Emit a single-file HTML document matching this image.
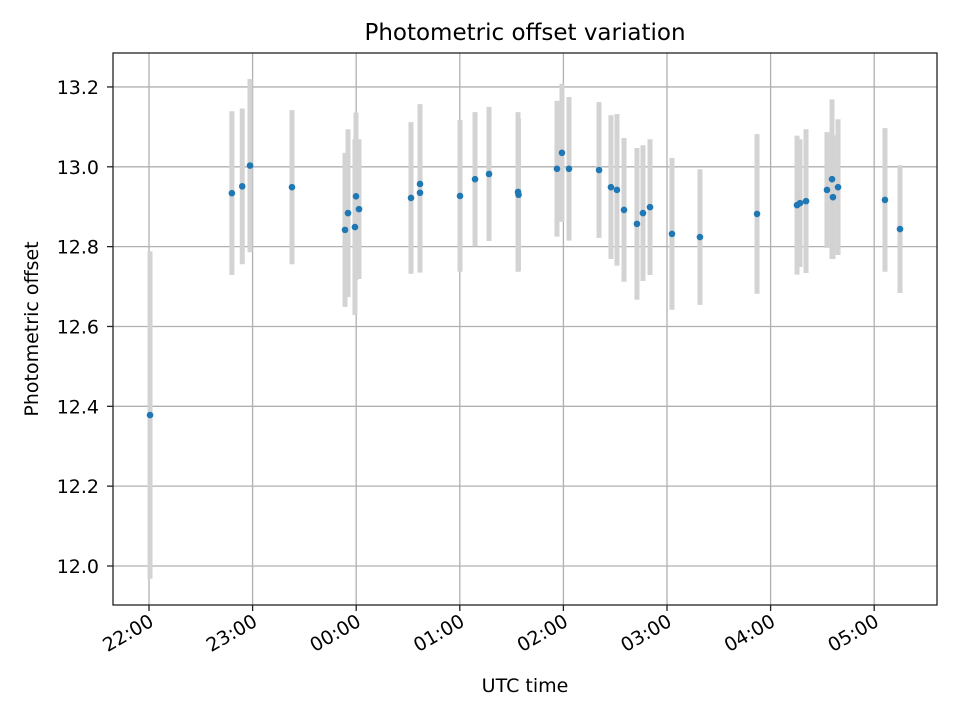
<!DOCTYPE html>
<html><head><meta charset="utf-8"><style>
html,body{margin:0;padding:0;background:#fff;}
svg text{font-family:"DejaVu Sans","Liberation Sans",sans-serif;fill:#000;}
</style></head><body>
<svg id="chart" width="960" height="720" xmlns="http://www.w3.org/2000/svg"></svg>
<script>
// hours after 22:00 UTC
const times = [0.01,0.80,0.90,0.975,1.38,1.892,1.921,1.998,1.988,2.027,2.529,2.616,2.616,3.002,3.147,3.282,3.562,3.567,3.938,3.986,4.054,4.344,4.459,4.517,4.585,4.710,4.768,4.836,5.048,5.318,5.869,6.255,6.284,6.342,6.544,6.593,6.602,6.651,7.104,7.249];
const values = [12.378,12.934,12.951,13.003,12.949,12.842,12.884,12.926,12.849,12.894,12.922,12.957,12.935,12.927,12.969,12.982,12.937,12.930,12.995,13.035,12.995,12.992,12.949,12.942,12.892,12.857,12.884,12.899,12.832,12.824,12.882,12.904,12.909,12.914,12.942,12.969,12.924,12.949,12.917,12.844];
const errors = [0.41,0.205,0.195,0.217,0.193,0.193,0.21,0.21,0.22,0.175,0.19,0.2,0.2,0.19,0.168,0.168,0.2,0.19,0.17,0.173,0.18,0.17,0.18,0.19,0.18,0.19,0.17,0.17,0.19,0.17,0.20,0.174,0.16,0.18,0.145,0.2,0.155,0.17,0.18,0.16];
const yTicks = [12.0,12.2,12.4,12.6,12.8,13.0,13.2];
const xTickHours = [0,1,2,3,4,5,6,7];
const xTickLabels = ["22:00","23:00","00:00","01:00","02:00","03:00","04:00","05:00"];

const NS="http://www.w3.org/2000/svg";
const svg=document.getElementById('chart');
const L=113,R=937,T=53,B=605;
function xs(h){return 149+h*103.6;}
function ys(v){return 566-(v-12)*399.2;}
function mk(tag,attrs,parent){const e=document.createElementNS(NS,tag);for(const k in attrs)e.setAttribute(k,attrs[k]);(parent||svg).appendChild(e);return e;}

const grid=mk('g',{});


yTicks.forEach(v=>{const l=mk('line',{x1:L,x2:R,y1:ys(v),y2:ys(v),stroke:'#b0b0b0','stroke-width':1.3},grid);

});
xTickHours.forEach(h=>{const l=mk('line',{x1:xs(h),x2:xs(h),y1:T,y2:B,stroke:'#b0b0b0','stroke-width':1.3},grid);

});

const eb=mk('g',{});


times.forEach((t,i)=>{const l=mk('line',{x1:xs(t),x2:xs(t),y1:ys(values[i]+errors[i]),y2:ys(values[i]-errors[i]),stroke:'#d3d3d3','stroke-width':5},eb);

});
const pts=mk('g',{});


times.forEach((t,i)=>{const c=mk('circle',{cx:xs(t),cy:ys(values[i]),r:3.3,fill:'#1f77b4'},pts);

});

const frame=mk('rect',{x:L,y:T,width:R-L,height:B-T,fill:'none',stroke:'#222','stroke-width':1.3});



const ya=mk('g',{});


yTicks.forEach(v=>{mk('line',{x1:L-6,x2:L,y1:ys(v),y2:ys(v),stroke:'#222','stroke-width':1.3},ya);
const t=mk('text',{x:L-14,y:ys(v)+7,'text-anchor':'end','font-size':19},ya);t.textContent=v.toFixed(1);

});
const xa=mk('g',{});


xTickHours.forEach((h,i)=>{mk('line',{x1:xs(h),x2:xs(h),y1:B,y2:B+6,stroke:'#222','stroke-width':1.3},xa);
const x=xs(h)+6,y=B+20;
const t=mk('text',{x:x,y:y,'text-anchor':'end','font-size':19,transform:`rotate(-30 ${x} ${y})`},xa);t.textContent=xTickLabels[i];

});

const title=mk('text',{x:525,y:40,'text-anchor':'middle','font-size':23});title.textContent='Photometric offset variation';


const xl=mk('text',{x:525,y:692,'text-anchor':'middle','font-size':19});xl.textContent='UTC time';


const yl=mk('text',{x:38,y:329,'text-anchor':'middle','font-size':19,transform:'rotate(-90 38 329)'});yl.textContent='Photometric offset';


</script>
</body></html>
